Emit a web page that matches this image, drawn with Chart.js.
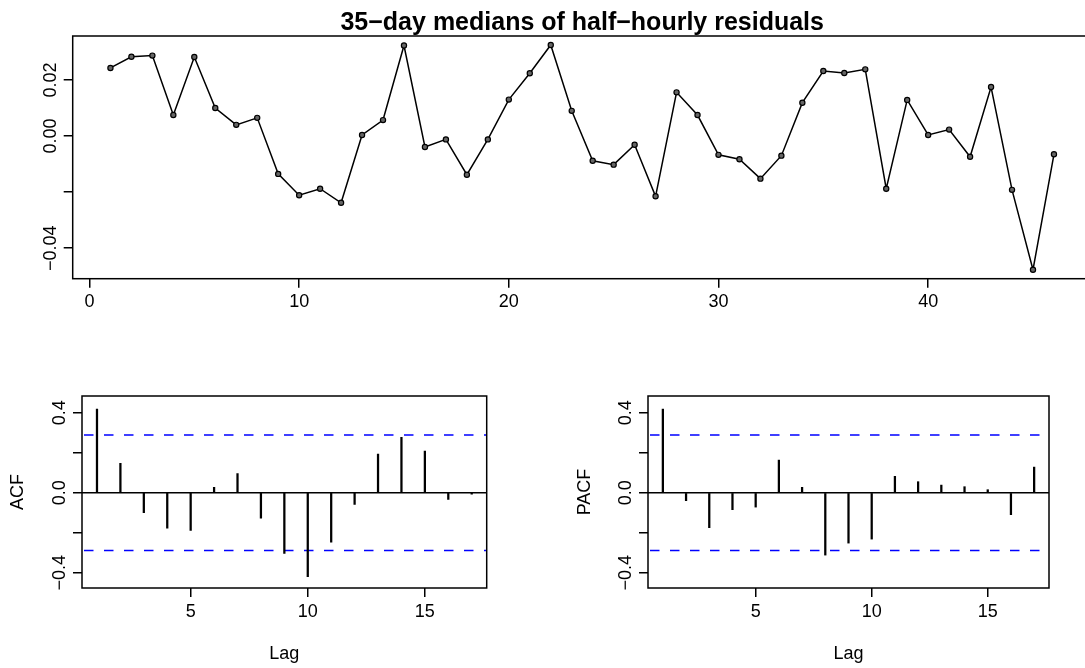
<!DOCTYPE html>
<html>
<head>
<meta charset="utf-8">
<script src="https://cdn.jsdelivr.net/npm/chart.js@4"></script>
<style>
    html, body { margin: 0; padding: 0; background: #fff; overflow: hidden; }
    body { position: relative; width: 1085px; height: 668px; }
    canvas { position: absolute; }
    #topChart { left: 0; top: 0; }
    #acfChart { left: 0; top: 340px; }
    #pacfChart { left: 542px; top: 340px; }
</style>
</head>
<body>
<canvas id="topChart" width="1100" height="330"></canvas>
<canvas id="acfChart" width="542" height="328"></canvas>
<canvas id="pacfChart" width="543" height="328"></canvas>
<script>
const days = [
    1, 2, 3, 4, 5, 6, 7, 8, 9, 10, 11, 12, 13, 14, 15, 16, 17, 18, 19, 20, 21, 22, 23,
    24, 25, 26, 27, 28, 29, 30, 31, 32, 33, 34, 35, 36, 37, 38, 39, 40, 41, 42, 43, 44, 45, 46,
];
const medians = [
    0.0243, 0.0283, 0.0287, 0.0075, 0.0282, 0.0100, 0.0040, 0.0065, -0.0135, -0.0211,
    -0.0188, -0.0238, 0.0004, 0.0057, 0.0323, -0.0039, -0.0012, -0.0138, -0.0012, 0.0130,
    0.0224, 0.0325, 0.0090, -0.0088, -0.0102, -0.0031, -0.0215, 0.0156, 0.0075, -0.0067,
    -0.0083, -0.0152, -0.0070, 0.0119, 0.0232, 0.0225, 0.0238, -0.0188, 0.0129, 0.0004,
    0.0023, -0.0074, 0.0175, -0.0192, -0.0477, -0.0065,
];

const lags = [1, 2, 3, 4, 5, 6, 7, 8, 9, 10, 11, 12, 13, 14, 15, 16, 17];
const acfValues = [
    0.418, 0.147, -0.100, -0.177, -0.188, 0.027, 0.095, -0.127, -0.303, -0.420,
    -0.247, -0.058, 0.193, 0.277, 0.208, -0.033, -0.007,
];
const pacfValues = [
    0.418, -0.040, -0.175, -0.085, -0.072, 0.163, 0.027, -0.312, -0.252, -0.232,
    0.082, 0.055, 0.038, 0.030, 0.015, -0.110, 0.128,
];
const confLimit = 0.289; // 1.96 / sqrt(46)

const topXTicks = [0, 10, 20, 30, 40];
const topYTicks = [-0.04, -0.02, 0, 0.02];
const topYHidden = [-0.02];
const lagTicks = [5, 10, 15];
const corrYTicks = [-0.4, -0.2, 0, 0.2, 0.4];
const corrYHidden = [-0.2, 0.2];

// R pads each axis range by 4%; the top panel's right edge runs past the window
const TOP_X_RANGE = [-0.8, 47.8];
const TOP_Y_RANGE = [-0.0509, 0.0357];
const LAG_RANGE = [0.36, 17.64];
const CORR_RANGE = [-0.4765, 0.4835];

Chart.defaults.font.family = '"Liberation Sans", Arial, Helvetica, sans-serif';
Chart.defaults.font.size = 18;
Chart.defaults.color = "#000";

// R-style minus sign, and drop labels R would have skipped for overlap
function rLabel(value, decimals, hidden) {
    if (hidden.some((h) => Math.abs(h - value) < 1e-9)) return "";
    return value.toFixed(decimals).replace("-", "\u2212");
}

function fixedTicks(values) {
    return (scale) => {
        scale.ticks = values.map((v) => ({ value: v }));
    };
}

// full box round the plot region, as base R draws it
const boxPlugin = {
    id: "plotBox",
    afterDraw(chart) {
        const { ctx, chartArea: a } = chart;
        ctx.save();
        ctx.strokeStyle = "#000";
        ctx.lineWidth = 1.5;
        ctx.strokeRect(a.left, a.top, a.right - a.left, a.bottom - a.top);
        ctx.restore();
    },
};

function tickGrid() {
    return {
        display: true,
        drawOnChartArea: false,
        drawTicks: true,
        tickLength: 9,
        tickColor: "#000",
        lineWidth: 1.5,
    };
}

new Chart(document.getElementById("topChart"), {
    type: "line",
    data: {
        datasets: [{
            data: days.map((d, i) => ({ x: d, y: medians[i] })),
            borderColor: "#000",
            borderWidth: 1.5,
            tension: 0,
            pointRadius: 2.6,
            pointBorderWidth: 1.2,
            pointBorderColor: "#000",
            pointBackgroundColor: "#666",
        }],
    },
    options: {
        responsive: false,
        animation: false,
        layout: { padding: { top: 0, right: 8.3, left: 0, bottom: 0 } },
        plugins: {
            legend: { display: false },
            tooltip: { enabled: false },
            title: {
                display: true,
                fullSize: false,
                text: "35\u2212day medians of half\u2212hourly residuals",
                font: { size: 25, weight: "bold", lineHeight: 1 },
                padding: { top: 11, bottom: 0 },
                color: "#000",
            },
        },
        scales: {
            x: {
                type: "linear",
                min: TOP_X_RANGE[0],
                max: TOP_X_RANGE[1],
                afterBuildTicks: fixedTicks(topXTicks),
                afterFit: (s) => { s.height = 51.3; },
                border: { display: false },
                grid: tickGrid(),
                ticks: { padding: 4, callback: (v) => String(v) },
            },
            y: {
                min: TOP_Y_RANGE[0],
                max: TOP_Y_RANGE[1],
                afterBuildTicks: fixedTicks(topYTicks),
                afterFit: (s) => { s.width = 72.7; },
                border: { display: false },
                grid: tickGrid(),
                ticks: {
                    minRotation: 90,
                    maxRotation: 90,
                    crossAlign: "center",
                    padding: -9.8,
                    callback: (v) => rLabel(v, 2, topYHidden),
                },
            },
        },
    },
    plugins: [boxPlugin],
});

function correlogram(canvasId, values, yTitle, opts) {
    const limitLine = (level) => ({
        type: "line",
        data: [{ x: LAG_RANGE[0], y: level }, { x: LAG_RANGE[1], y: level }],
        borderColor: "#0000ff",
        borderWidth: 1.5,
        borderDash: [9.5, 10.5],
        borderDashOffset: -2,
        pointRadius: 0,
        tension: 0,
    });

    return new Chart(document.getElementById(canvasId), {
        type: "bar",
        data: {
            datasets: [
                {
                    type: "bar",
                    data: lags.map((l, i) => ({ x: l, y: values[i] })),
                    backgroundColor: "#000",
                    borderWidth: 0,
                    barThickness: 1.6,
                },
                limitLine(confLimit),
                limitLine(-confLimit),
            ],
        },
        options: {
            responsive: false,
            animation: false,
            layout: { padding: { top: 56, right: opts.padRight, left: 0, bottom: 0 } },
            plugins: {
                legend: { display: false },
                tooltip: { enabled: false },
            },
            scales: {
                x: {
                    type: "linear",
                    min: LAG_RANGE[0],
                    max: LAG_RANGE[1],
                    offset: false,
                    afterBuildTicks: fixedTicks(lagTicks),
                    afterFit: (s) => { s.height = 80; },
                    border: { display: false },
                    grid: { ...tickGrid(), offset: false },
                    ticks: { padding: 4, callback: (v) => String(v) },
                    title: { display: true, text: "Lag", padding: { top: 0, bottom: 3.2 } },
                },
                y: {
                    min: CORR_RANGE[0],
                    max: CORR_RANGE[1],
                    afterBuildTicks: fixedTicks(corrYTicks),
                    afterFit: (s) => { s.width = opts.axisWidth; },
                    border: { display: false },
                    grid: {
                        ...tickGrid(),
                        drawOnChartArea: true,
                        color: (ctx) => (ctx.tick && ctx.tick.value === 0 ? "#000" : "rgba(0,0,0,0)"),
                    },
                    ticks: {
                        minRotation: 90,
                        maxRotation: 90,
                        crossAlign: "center",
                        padding: opts.tickPad,
                        callback: (v) => rLabel(v, 1, corrYHidden),
                    },
                    title: { display: true, text: yTitle, padding: { top: opts.titlePad, bottom: 0 } },
                },
            },
        },
        plugins: [boxPlugin],
    });
}

correlogram("acfChart", acfValues, "ACF", { padRight: 55.3, axisWidth: 82, tickPad: -4.8, titlePad: 7.5 });
correlogram("pacfChart", pacfValues, "PACF", { padRight: 36, axisWidth: 106, tickPad: -4.6, titlePad: 32.7 });
</script>
</body>
</html>
